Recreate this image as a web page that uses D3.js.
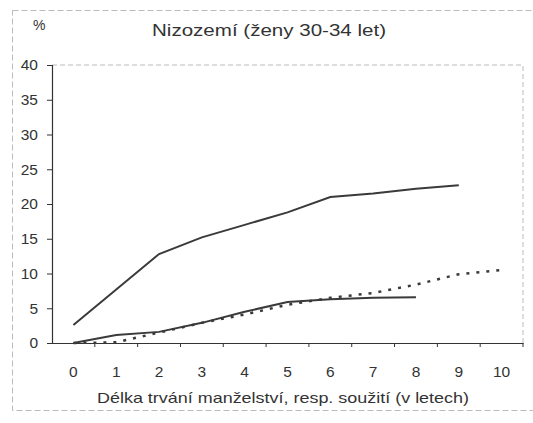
<!DOCTYPE html>
<html><head><meta charset="utf-8">
<script src="https://cdn.jsdelivr.net/npm/d3@7"></script>
<style>body{margin:0;background:#fff}svg{display:block}text{font-family:"Liberation Sans",Arial,sans-serif;fill:#333}</style>
</head><body>
<svg id="c" width="533" height="423"></svg>
<script>
const categories = [0,1,2,3,4,5,6,7,8,9,10];
const seriesTop = [2.6, 7.7, 12.8, 15.2, 17.0, 18.8, 21.0, 21.5, 22.2, 22.7, null];
const seriesLow = [0, 1.15, 1.6, 2.9, 4.5, 5.9, 6.3, 6.5, 6.6, null, null];
const seriesDot = [0, 0.1, 1.5, 2.9, 4.1, 5.5, 6.5, 7.2, 8.4, 9.9, 10.5];
const yTicks = [0,5,10,15,20,25,30,35,40];
const title = "Nizozemí (ženy 30-34 let)";
const xTitle = "Délka trvání manželství, resp. soužití (v letech)";
const yUnit = "%";

const svg = d3.select("#c");
const L = 52, R = 523, T = 65, B = 343;
const x = d3.scaleBand().domain(categories).range([L, R]);
const y = d3.scaleLinear().domain([0, 40]).range([B, T]);
const FF = '"Liberation Sans",Arial,sans-serif';

// outer border
svg.append("rect").attr("x", 12.5).attr("y", 10.5).attr("width", 525).attr("height", 400)
  .attr("fill", "none").attr("stroke", "#bbb").attr("stroke-dasharray", "6,3");
// plot border (top/right)
svg.append("path").attr("d", `M${L},${T}H${R}V${B}`).attr("fill", "none")
  .attr("stroke", "#bbb").attr("stroke-dasharray", "5,3");

// y axis
const ya = svg.append("g").attr("transform", `translate(${L},0)`)
  .call(d3.axisLeft(y).tickValues(yTicks).tickSize(5).tickPadding(9));
ya.select(".domain").attr("stroke", "#333").attr("stroke-width", 1.2);
ya.selectAll(".tick line").attr("stroke", "#333");
ya.selectAll("text").attr("font-size", 15.5).style("font-family", FF).attr("fill", "#333");

// x axis
const xa = svg.append("g").attr("transform", `translate(0,${B})`)
  .call(d3.axisBottom(x).tickSize(0).tickPadding(23));
xa.select(".domain").attr("stroke", "#333").attr("stroke-width", 1.2);
xa.selectAll("text").attr("font-size", 15.5).style("font-family", FF).attr("fill", "#333");
// ticks between categories
xa.selectAll(".sep").data(categories).enter().append("line")
  .attr("x1", d => x(d) + x.bandwidth()).attr("x2", d => x(d) + x.bandwidth())
  .attr("y1", 0).attr("y2", 4).attr("stroke", "#333");

const cx = d => x(d) + x.bandwidth() / 2;
const line = d3.line().defined(d => d.v != null).x(d => cx(d.c)).y(d => y(d.v));
const mk = arr => categories.map((c, i) => ({c, v: arr[i]}));

svg.append("path").datum(mk(seriesTop)).attr("d", line).attr("fill", "none")
  .attr("stroke", "#3a3a3a").attr("stroke-width", 2);
svg.append("path").datum(mk(seriesLow)).attr("d", line).attr("fill", "none")
  .attr("stroke", "#3a3a3a").attr("stroke-width", 2);
svg.append("path").datum(mk(seriesDot)).attr("d", line).attr("fill", "none")
  .attr("stroke", "#3a3a3a").attr("stroke-width", 2.5).attr("stroke-dasharray", "3,7");

svg.append("text").attr("x", 269).attr("y", 36).attr("text-anchor", "middle")
  .attr("font-size", 16).attr("textLength", 234).attr("lengthAdjust", "spacingAndGlyphs").text(title);
svg.append("text").attr("x", 283).attr("y", 403).attr("text-anchor", "middle")
  .attr("font-size", 15).attr("textLength", 372).attr("lengthAdjust", "spacingAndGlyphs").text(xTitle);
svg.append("text").attr("x", 33).attr("y", 30).attr("font-size", 14).text(yUnit);
</script>
</body></html>
